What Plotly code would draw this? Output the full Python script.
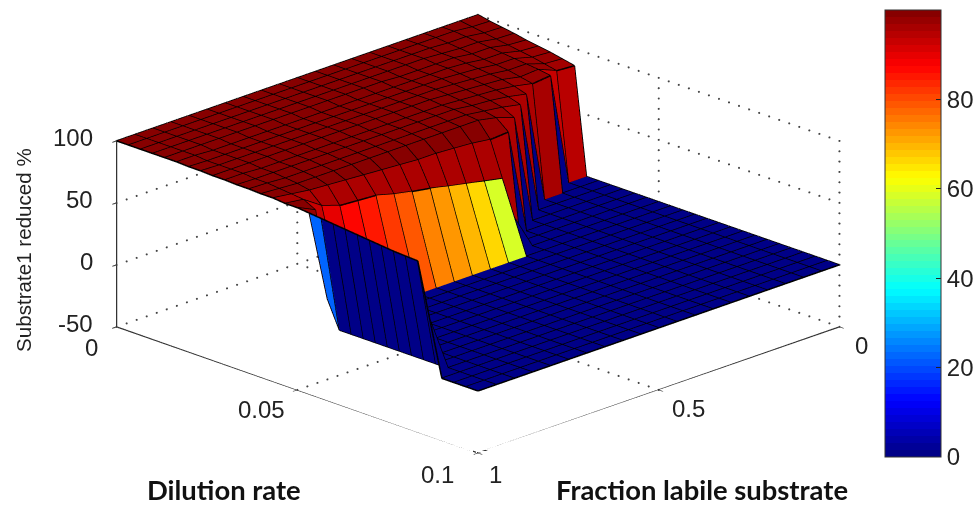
import plotly.graph_objects as go

fraction = [0,.05,.10,.15,.20,.25,.30,.35,.40,.45,.50,.55,.60,.65,.70,.75,.80,.85,.90,.95,1.0]
dilution = [0,.00333,.00667,.01,.01333,.01667,.02,.02333,.02667,.03,.03333,.03667,.04,.04333,.04667,.05,
            .05333,.05667,.06,.06333,.06667,.07,.07333,.07667,.08,.08333,.08667,.09,.09333,.09667,.1]

reduced = [
 [100,98,96.5,95,93,91.5,90,88,86]+[0]*22,
 [100,98.5,97,95.5,94,92.5,91,89,87]+[0]*22,
 [100,100,99,98,97,96,95,94,93,91.5]+[0]*21,
 [100,100,99,98,97,96,95,94,92,90]+[0]*21,
 [100,100,100,99,99,98,97,96,95,93,90]+[0]*20,
 [100,100,100,100,99,99,98,97,96,95,93,90]+[0]*19,
 [100,100,100,100,99,99,99,98,97,96,95,93,88]+[0]*18,
 [100,100,100,100,99,99,99,99,98,97,96,95,93,85]+[0]*17,
 [100,100,100,100,100,99,99,99,99,98,98,97,96,84,56,28]+[0]*15,
 [100,100,100,100,100,99,99,99,99,98,98,97,96,86,59,29.5]+[0]*15,
 [100,100,100,100,100,99,99,99,99,98,98,97,96,87,62,31]+[0]*15,
 [100,100,100,100,100,99,99,99,99,98,98,97,96,88,65,32.5]+[0]*15,
 [100,100,100,100,100,99,99,99,99,98,98,97,96,88,68.5,34]+[0]*15,
 [100,100,100,100,100,99,99,99,99,98,98,97,96,89,71,35.5]+[0]*15,
 [100,100,100,100,100,99,99,99,99,98,98,97,96,90,74,37]+[0]*15,
 [100,100,100,100,100,99,99,99,99,98,98,97,96,91,78,39]+[0]*15,
 [100,100,100,100,100,99,99,99,99,98,98,97,96,92,79,39.5]+[0]*15,
 [100,100,100,100,100,99,99,99,99,98,98,97,96,93,80,40]+[0]*15,
 [100,100,100,100,100,99,99,99,99,98,98,97,96,94,85,45]+[0]*15,
 [100,100,100,100,100,100,99,99,99,99,98,98,97,96,95,90,22]+[0]*14,
 [100,100,100,100,100,100,99.5,99.5,99,99,98.5,98.5,98,98,97,97,96,95,94,93,92,91,90,89,88.5,88,44]+[0]*4,
]

wall_colour = [58,65.5,69,72,74.5,78,81,85,87,90,92]      # f = .40 ... .90
rim_colour = [95,95,95,95,95,95,95,95,95,95,95,96]        # f = .40 ... .95
finger_top = [8,8,9,9,10,11,12,13]                        # f = 0 ... .35
finger_colour = [93.5,92,96,95,95,95,95,95]

z_ticks = [-50,0,50,100]
z_labels = ['-50','0','50','100']
d_ticks = [0,.05,.1]
d_labels = ['0','0.05','0.1']
d_shift = [(-25,21),(-36,20),(-40,22)]
f_ticks = [0,.5,1]
f_labels = ['0','0.5','1']
f_shift = [(23,19),(30,19),(18,22)]
bar_ticks = [0,20,40,60,80]

def jet_rgb(t):
    r = min(max(min(4*t-1.5, -4*t+4.5), 0), 1)
    g = min(max(min(4*t-0.5, -4*t+3.5), 0), 1)
    b = min(max(min(4*t+0.5, -4*t+2.5), 0), 1)
    return 'rgb(%d,%d,%d)' % (r*255, g*255, b*255)
jet = []
for n in range(64):
    c = jet_rgb((n+.5)/64)
    jet += [[n/64, c], [(n+1)/64, c]]

nf, nd = len(fraction), len(dilution)
colour = [[(97+(v-90)*.3 if v >= 85 else v) for v in row] for row in reduced]
for n, c in enumerate(wall_colour):
    colour[8+n][14] = c
    colour[8+n][15] = c
for n, c in enumerate(rim_colour):
    colour[8+n][13] = c
for n, (t, c) in enumerate(zip(finger_top, finger_colour)):
    colour[n][t] = c

vx, vy, vz = [], [], []
for a in range(nf):
    for b in range(nd):
        vx.append(fraction[a]); vy.append(dilution[b]); vz.append(reduced[a][b])
ti, tj, tk, cell = [], [], [], []
for a in range(nf-1):
    for b in range(nd-1):
        p, q, r, s = a*nd+b, a*nd+b+1, (a+1)*nd+b+1, (a+1)*nd+b
        ti += [p, p]; tj += [q, r]; tk += [r, s]
        cell += [colour[a][b], colour[a][b]]

TXT = '#222'
fig = go.Figure()
fig.add_trace(go.Mesh3d(x=vx, y=vy, z=vz, i=ti, j=tj, k=tk, intensity=cell, intensitymode='cell',
    colorscale=jet, cmin=0, cmax=100, flatshading=True, hoverinfo='skip',
    lighting=dict(ambient=1, diffuse=0, specular=0, roughness=1, fresnel=0),
    colorbar=dict(thicknessmode='pixels', thickness=56, lenmode='pixels', len=447, x=885/979, xanchor='left',
                  xpad=0, ypad=0, y=1-233.5/505, yanchor='middle', outlinecolor='#333', outlinewidth=1,
                  tickvals=bar_ticks, ticks='inside', ticklen=5, tickcolor='#222',
                  tickfont=dict(family='Liberation Sans', size=24, color=TXT))))

lx, ly, lz = [], [], []
for a in range(nf):
    for b in range(nd):
        if b < nd-1:
            lx += [fraction[a], fraction[a], None]; ly += [dilution[b], dilution[b+1], None]; lz += [reduced[a][b], reduced[a][b+1], None]
        if a < nf-1 and not (b == 15 and 8 <= a <= 18):
            lx += [fraction[a], fraction[a+1], None]; ly += [dilution[b], dilution[b], None]; lz += [reduced[a][b], reduced[a+1][b], None]
fig.add_trace(go.Scatter3d(x=lx, y=ly, z=lz, mode='lines', line=dict(color='#000000', width=3), hoverinfo='skip', showlegend=False))

# dotted grid of the back walls and floor, as separate dots
gx, gy, gz = [], [], []
def dots(a, b, n):
    for s in range(n+1):
        t = s/n
        gx.append(a[0]+(b[0]-a[0])*t); gy.append(a[1]+(b[1]-a[1])*t); gz.append(a[2]+(b[2]-a[2])*t)
for z in z_ticks:
    dots((0,0,z), (1,0,z), 36); dots((0,0,z), (0,.1,z), 36)
for f in f_ticks[:2]:
    dots((f,0,-50), (f,0,100), 18); dots((f,0,-50), (f,.1,-50), 36)
for d in d_ticks[:2]:
    dots((0,d,-50), (1,d,-50), 36)
for d in d_ticks[1:]:
    dots((0,d,-50), (0,d,100), 18)
fig.add_trace(go.Scatter3d(x=gx, y=gy, z=gz, mode='markers', marker=dict(color='#444', size=1.2, line=dict(width=0)),
    hoverinfo='skip', showlegend=False))

fig.add_trace(go.Scatter3d(x=[1,1,1,0], y=[0,0,.1,.1], z=[100,-50,-50,-50], mode='lines',
    line=dict(color='#333', width=2.5), hoverinfo='skip', showlegend=False))

label_font = dict(family='Liberation Sans', size=24, color=TXT)
scene_notes = []
for d, t, (sx, sy) in zip(d_ticks, d_labels, d_shift):
    scene_notes.append(dict(x=1, y=d, z=-50, text=t, showarrow=False, xshift=sx, yshift=-sy, font=label_font))
for f, t, (sx, sy) in zip(f_ticks, f_labels, f_shift):
    scene_notes.append(dict(x=f, y=.1, z=-50, text=t, showarrow=False, xshift=sx, yshift=-sy, font=label_font))
for z, t in zip(z_ticks, z_labels):
    scene_notes.append(dict(x=1, y=0, z=z, text=t, showarrow=False, xanchor='right', xshift=-22, yshift=3, font=label_font))

ax = dict(showgrid=False, zeroline=False, showbackground=False, showspikes=False, showline=False,
          ticks='outside', ticklen=6, tickcolor='#333', tickwidth=2, title=dict(text=''), showticklabels=False)
fig.update_layout(
    width=979, height=505, autosize=False, margin=dict(l=0, r=0, t=0, b=0),
    paper_bgcolor='white', showlegend=False,
    scene=dict(
        domain=dict(x=[0,.977], y=[.07,1]),
        xaxis=dict(ax, range=[0,1], tickvals=f_ticks),
        yaxis=dict(ax, range=[0,.1], tickvals=d_ticks),
        zaxis=dict(ax, range=[-50,100.3], tickvals=z_ticks),
        aspectmode='manual', aspectratio=dict(x=2.175, y=2.175, z=.846),
        camera=dict(projection=dict(type='orthographic'), eye=dict(x=3, y=3, z=1.574), center=dict(x=0,y=0,z=-.006), up=dict(x=0,y=0,z=1)),
        annotations=scene_notes,
    ),
    annotations=[
        dict(text='Substrate1 reduced %', x=23/979, y=1-250/505, xref='paper', yref='paper', textangle=-90, showarrow=False,
             xanchor='center', yanchor='middle', font=dict(family='Liberation Sans', size=20.6, color=TXT)),
        dict(text='<b>Dilution rate</b>', x=224/979, y=1-489/505, xref='paper', yref='paper', showarrow=False,
             xanchor='center', yanchor='middle', font=dict(family='Lato', size=27.4, color='#111')),
        dict(text='<b>Fraction labile substrate</b>', x=703/979, y=1-489/505, xref='paper', yref='paper', showarrow=False,
             xanchor='center', yanchor='middle', font=dict(family='Lato', size=27.4, color='#111')),
    ])
fig.write_html("out.html", config=dict(displayModeBar=False),
               post_script="document.documentElement.style.overflow='hidden';document.body.style.margin='0';")
